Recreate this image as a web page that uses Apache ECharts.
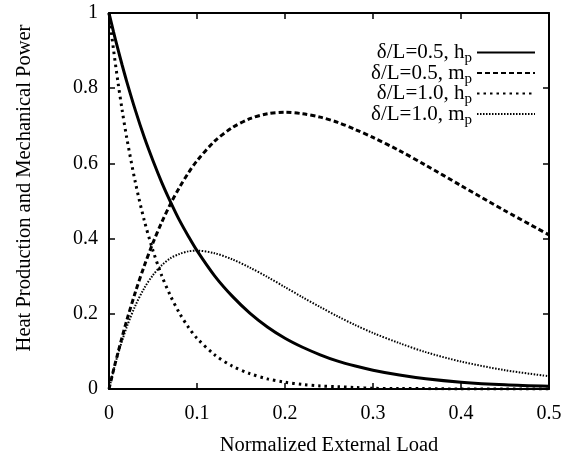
<!DOCTYPE html>
<html><head><meta charset="utf-8">
<script src="https://cdn.jsdelivr.net/npm/echarts@6/dist/echarts.min.js"></script>
<style>html,body{margin:0;padding:0;background:#fff}#c{width:570px;height:457px}</style>
</head><body><div id="c"></div>
<script>
const xs   = [0,0.005,0.01,0.015,0.02,0.03,0.04,0.05,0.06,0.07,0.08,0.09,0.10,0.12,0.14,0.16,0.18,0.20,0.22,0.24,0.26,0.28,0.30,0.33,0.36,0.40,0.45,0.50];
const h05  = [1,0.951,0.905,0.861,0.819,0.741,0.670,0.607,0.549,0.497,0.449,0.407,0.368,0.301,0.247,0.202,0.165,0.135,0.111,0.091,0.074,0.061,0.050,0.037,0.027,0.018,0.011,0.007];
const m05  = [0,0.049,0.095,0.139,0.181,0.258,0.327,0.389,0.444,0.493,0.536,0.574,0.607,0.659,0.695,0.719,0.732,0.736,0.732,0.723,0.709,0.690,0.669,0.634,0.595,0.541,0.474,0.410];
const h10  = [1,0.905,0.819,0.741,0.670,0.549,0.449,0.368,0.301,0.247,0.202,0.165,0.135,0.091,0.061,0.041,0.027,0.018,0.012,0.008,0.006,0.004,0.002,0.001,0.001,0.000,0.000,0.000];
const m10  = [0,0.048,0.091,0.129,0.164,0.222,0.268,0.303,0.329,0.348,0.359,0.366,0.368,0.361,0.345,0.323,0.298,0.271,0.244,0.218,0.193,0.170,0.149,0.122,0.098,0.073,0.050,0.034];
const names = ['δ/L=0.5, hp','δ/L=0.5, mp','δ/L=1.0, hp','δ/L=1.0, mp'];
const legendLabels = {'δ/L=0.5, hp':'δ/L=0.5, h{s|p}','δ/L=0.5, mp':'δ/L=0.5, m{s|p}','δ/L=1.0, hp':'δ/L=1.0, h{s|p}','δ/L=1.0, mp':'δ/L=1.0, m{s|p}'};
const FONT = 'Liberation Serif';
const pairs = ys => xs.map((x,i)=>[x,ys[i]]);
const styles = [
  {width:3, type:'solid'},
  {width:3, type:[5,3]},
  {width:3, type:[2.5,4]},
  {width:2, type:[1.5,1.5]}
];
const data = [h05,m05,h10,m10];
const chart = echarts.init(document.getElementById('c'));
const axisBase = {type:'value', splitLine:{show:false},
  axisLine:{show:true, onZero:false, lineStyle:{color:'#000', width:2}},
  axisTick:{show:true, inside:true, length:6, lineStyle:{color:'#000', width:1.5}}};
chart.setOption({
  animation:false,
  grid:{left:109, right:21, top:13, bottom:68, containLabel:false, outerBoundsMode:'none'},
  legend:{orient:'vertical', right:29, top:34, align:'right', itemWidth:58, itemHeight:14, itemGap:-6.5,
    data:names, itemStyle:{opacity:0},
    formatter: n => legendLabels[n],
    textStyle:{fontFamily:FONT, fontSize:21, color:'#000', lineHeight:20,
      rich:{s:{fontFamily:FONT, fontSize:15, color:'#000', lineHeight:8, padding:[12,0,0,0]}}}},
  xAxis:[
    Object.assign({}, axisBase, {min:0, max:0.5, interval:0.1, position:'bottom',
      name:'Normalized External Load', nameLocation:'middle', nameGap:46,
      nameTextStyle:{fontFamily:FONT, fontSize:20.5, color:'#000'},
      axisLabel:{fontFamily:FONT, fontSize:20, color:'#000', margin:15, formatter:v=>String(+v.toFixed(1))}}),
    Object.assign({}, axisBase, {min:0, max:0.5, interval:0.1, position:'top', axisLabel:{show:false}})
  ],
  yAxis:[
    Object.assign({}, axisBase, {min:0, max:1, interval:0.2, position:'left',
      name:'Heat Production and Mechanical Power', nameLocation:'middle', nameGap:74,
      nameTextStyle:{fontFamily:FONT, fontSize:20.5, color:'#000', padding:[0,0,0,26]},
      axisLabel:{fontFamily:FONT, fontSize:20, color:'#000', margin:11, formatter:v=>String(+v.toFixed(1))}}),
    Object.assign({}, axisBase, {min:0, max:1, interval:0.2, position:'right', axisLabel:{show:false}})
  ],
  series: data.map((d,i)=>({name:names[i], type:'line', smooth:0.3, showSymbol:false, symbol:'none',
    data:pairs(d), lineStyle:Object.assign({color:'#000', cap:'butt'}, styles[i]), itemStyle:{color:'#000'}, z:5-i}))
});
</script></body></html>
